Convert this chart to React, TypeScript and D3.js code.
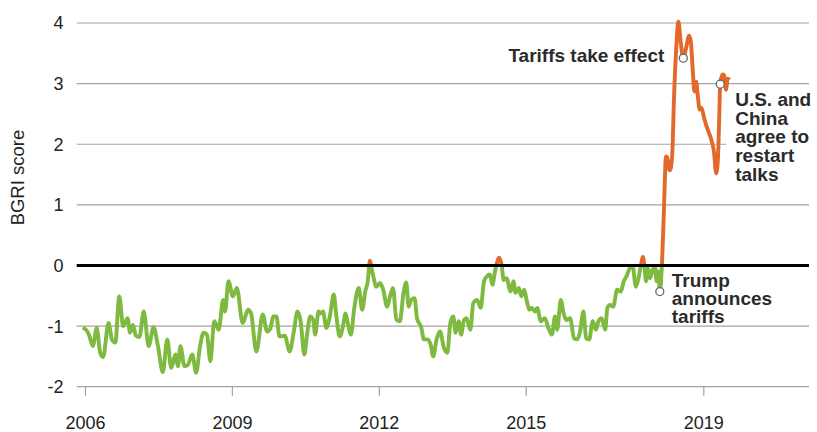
import React, { useEffect, useRef } from "react";
import * as d3 from "d3";

const WIDTH = 817;
const HEIGHT = 432;
const PLOT = { left: 76.7, right: 809, top: 23, bottom: 386.7 };
const FONT = "'Liberation Sans', Arial, Helvetica, sans-serif";

const GREEN = "#7dba3f";
const ORANGE = "#e2692b";
const GRID = "#a3a3a3";

// BGRI score (decimal years)
const years = [
  2005.95, 2006.02, 2006.08, 2006.16, 2006.24, 2006.31, 2006.37, 2006.48, 2006.55, 2006.62,
  2006.7, 2006.78, 2006.87, 2006.92, 2006.98, 2007.04, 2007.11, 2007.2, 2007.3, 2007.4,
  2007.49, 2007.59, 2007.68, 2007.76, 2007.85, 2007.9, 2007.95, 2008.03, 2008.1, 2008.19,
  2008.27, 2008.35, 2008.42, 2008.49, 2008.56, 2008.64, 2008.73, 2008.82, 2008.86, 2008.93,
  2009.02, 2009.1, 2009.22, 2009.33, 2009.39, 2009.5, 2009.63, 2009.72, 2009.78, 2009.85,
  2009.91, 2009.97, 2010.08, 2010.18,
  2010.26, 2010.34, 2010.4, 2010.48, 2010.53, 2010.6, 2010.66, 2010.7, 2010.77, 2010.82,
  2010.86, 2010.93, 2011.0, 2011.08, 2011.13, 2011.2, 2011.27, 2011.32, 2011.36, 2011.43,
  2011.5, 2011.59, 2011.66, 2011.73, 2011.77, 2011.82, 2011.86, 2011.88, 2011.95, 2012.02,
  2012.09, 2012.17, 2012.22, 2012.29, 2012.36, 2012.43, 2012.5, 2012.56, 2012.61, 2012.66,
  2012.73, 2012.78, 2012.87, 2012.92, 2013.0, 2013.06, 2013.11, 2013.18, 2013.25, 2013.33,
  2013.4, 2013.46, 2013.52, 2013.57, 2013.63, 2013.68, 2013.74, 2013.79, 2013.87, 2013.93,
  2014.01, 2014.08, 2014.15, 2014.21, 2014.27, 2014.32, 2014.38, 2014.46, 2014.51, 2014.55,
  2014.61, 2014.69,
  2014.75, 2014.79, 2014.86, 2014.91, 2014.97, 2015.02, 2015.08, 2015.14, 2015.21, 2015.26,
  2015.34, 2015.43, 2015.51, 2015.59, 2015.66, 2015.71, 2015.79, 2015.86, 2015.92, 2016.0,
  2016.09, 2016.16, 2016.22, 2016.3, 2016.36, 2016.43, 2016.51, 2016.58, 2016.64, 2016.71,
  2016.79, 2016.84, 2016.9, 2016.97, 2017.06, 2017.14, 2017.21, 2017.27, 2017.35, 2017.41,
  2017.48, 2017.54, 2017.59, 2017.64, 2017.68, 2017.71, 2017.76, 2017.8, 2017.86, 2017.91,
  2017.95, 2017.99, 2018.02,
  2018.07, 2018.11, 2018.16, 2018.19, 2018.22, 2018.25, 2018.3, 2018.34, 2018.39, 2018.44,
  2018.49, 2018.55, 2018.61, 2018.68, 2018.72, 2018.76, 2018.8, 2018.84, 2018.87, 2018.92,
  2018.96, 2019.02, 2019.09, 2019.17, 2019.24, 2019.29, 2019.33, 2019.36, 2019.38, 2019.43,
  2019.47, 2019.51, 2019.55, 2019.59,
];

const scores = [
  -1.03, -1.06, -1.14, -1.33, -1.03, -1.44, -1.51, -0.95, -1.22, -1.27,
  -0.51, -1.0, -0.87, -1.11, -0.98, -1.16, -1.18, -0.76, -1.33, -1.02,
  -1.33, -1.76, -1.22, -1.69, -1.47, -1.66, -1.33, -1.66, -1.64, -1.47,
  -1.77, -1.33, -1.11, -1.14, -1.58, -0.92, -1.06, -0.57, -0.76, -0.26,
  -0.51, -0.37, -0.95, -0.73, -0.79, -1.42, -0.81, -1.09, -1.05, -0.84,
  -0.84, -1.17, -1.16, -1.42,
  -1.11, -0.76, -0.9, -1.47, -1.17, -0.84, -0.9, -1.14, -0.76, -0.79,
  -0.76, -1.03, -0.84, -0.48, -0.81, -1.17, -1.0, -0.79, -0.92, -1.14,
  -0.7, -0.37, -0.73, -0.4, -0.29, 0.08, -0.08, -0.15, -0.35, -0.29,
  -0.4, -0.68, -0.54, -0.37, -0.9, -0.92, -0.48, -0.28, -0.68, -0.57,
  -0.54, -0.87, -1.03, -1.22, -1.22, -1.31, -1.5, -1.22, -1.09, -1.36,
  -1.44, -0.95, -0.84, -1.11, -0.92, -1.14, -0.9, -0.87, -1.06, -0.62,
  -0.57, -0.7, -0.26, -0.18, -0.15, -0.32, -0.07, 0.13, 0.0, -0.24,
  -0.21, -0.43,
  -0.26, -0.45, -0.37, -0.51, -0.4, -0.57, -0.73, -0.7, -0.76, -0.7,
  -0.92, -0.87, -1.03, -1.14, -0.84, -1.06, -0.57, -0.81, -0.9, -0.87,
  -1.2, -1.22, -1.11, -0.76, -1.2, -1.22, -0.92, -1.06, -0.92, -0.87,
  -1.06, -0.7, -0.65, -0.68, -0.4, -0.43, -0.26, -0.18, -0.04, -0.02,
  -0.35, -0.21, -0.02, 0.14, -0.05, -0.26, -0.05, -0.21, -0.07, -0.02,
  -0.26, -0.1, -0.43,
  0.04, 0.84, 1.8, 1.78, 1.59, 1.57, 1.82, 2.76, 3.58, 4.02,
  3.69, 3.42, 3.58, 3.79, 3.69, 3.25, 2.87, 3.03, 2.84, 2.57,
  2.6, 2.43, 2.26, 2.1, 1.88, 1.52, 1.77, 2.48, 2.99, 3.15,
  3.14, 2.9, 3.08, 3.06,
];

const yTicks = [-2, -1, 0, 1, 2, 3, 4];
const xTicks = [2006, 2009, 2012, 2015, 2019];

// annotated events
const eventYears = [2018.02, 2018.55, 2019.38];
const eventScores = [-0.43, 3.42, 2.99];
const eventLines = [
  ["Trump", "announces", "tariffs"],
  ["Tariffs take effect"],
  ["U.S. and", "China", "agree to", "restart", "talks"],
];

const x = d3.scaleLinear().domain([2006, 2015, 2019]).range([85, 525.7, 703.3]);
const y = d3.scaleLinear().domain([-2, 4]).range([PLOT.bottom, PLOT.top]);

const App = () => {
  const xAxisRef = useRef<SVGGElement>(null);
  const points: [number, number][] = years.map((yr, i) => [yr, scores[i]]);
  const line = d3
    .line<[number, number]>()
    .x((d) => x(d[0]))
    .y((d) => y(d[1]))
    .curve(d3.curveMonotoneX);
  const path = line(points) || "";
  const y0 = y(0);

  useEffect(() => {
    const g = d3.select(xAxisRef.current);
    g.selectAll("*").remove();
    g.call(
      d3
        .axisBottom(x)
        .tickValues(xTicks)
        .tickFormat((d) => String(d))
        .tickSize(9)
        .tickSizeOuter(0)
    );
    g.select(".domain").remove();
    g.selectAll(".tick line").attr("stroke", GRID).attr("stroke-width", 1.2);
    g.selectAll(".tick text")
      .attr("y", 42.3)
      .attr("dy", 0)
      .attr("fill", "#222")
      .style("font-family", FONT)
      .style("font-size", "18px");
  }, []);

  return (
    <svg
      width={WIDTH}
      height={HEIGHT}
      style={{ position: "absolute", left: 0, top: 0, background: "#fff" }}
    >
      <defs>
        <clipPath id="above">
          <rect x={0} y={0} width={WIDTH} height={y0} />
        </clipPath>
        <clipPath id="below">
          <rect x={0} y={y0} width={WIDTH} height={HEIGHT - y0} />
        </clipPath>
      </defs>

      {yTicks
        .filter((t) => t !== 0)
        .map((t) => (
          <line
            key={t}
            x1={PLOT.left}
            x2={PLOT.right}
            y1={y(t)}
            y2={y(t)}
            stroke={GRID}
            strokeWidth={1.2}
          />
        ))}

      {yTicks.map((t) => (
        <text
          key={t}
          x={63.5}
          y={y(t)}
          dy="0.36em"
          textAnchor="end"
          fontFamily={FONT}
          fontSize={18}
          fill="#222"
        >
          {t}
        </text>
      ))}

      <text
        transform={`translate(24, ${y(1.45)}) rotate(-90)`}
        textAnchor="middle"
        fontFamily={FONT}
        fontSize={18.5}
        fill="#222"
      >
        BGRI score
      </text>

      <g ref={xAxisRef} transform={`translate(0, ${PLOT.bottom})`} />

      {/* white box behind the talks note hides the gridline */}
      <rect
        x={x(eventYears[2]) + 6}
        y={y(eventScores[2]) + 4}
        width={WIDTH}
        height={100}
        fill="#fff"
      />

      <path d={path} fill="none" stroke={GREEN} strokeWidth={3.9} strokeLinejoin="round" clipPath="url(#below)" />
      <path d={path} fill="none" stroke={ORANGE} strokeWidth={3.9} strokeLinejoin="round" clipPath="url(#above)" />

      <line x1={PLOT.left} x2={PLOT.right} y1={y0} y2={y0} stroke="#000" strokeWidth={3} />

      {eventYears.map((yr, i) => (
        <circle
          key={i}
          cx={x(yr)}
          cy={y(eventScores[i])}
          r={4}
          fill="#fff"
          stroke="#666"
          strokeWidth={1.3}
        />
      ))}

      <g fontFamily={FONT} fontSize={19} fontWeight="bold" fill="#2b2b2b">
        {eventLines[0].map((s, j) => (
          <text key={s} x={x(eventYears[0]) + 12} y={y(eventScores[0]) - 5 + j * 18}>
            {s}
          </text>
        ))}
        <text x={x(eventYears[1]) - 19} y={y(eventScores[1]) + 4} textAnchor="end">
          {eventLines[1][0]}
        </text>
        {eventLines[2].map((s, j) => (
          <text key={s} x={x(eventYears[2]) + 15} y={y(eventScores[2]) + 22 + j * 18.6}>
            {s}
          </text>
        ))}
      </g>
    </svg>
  );
};

export default App;
